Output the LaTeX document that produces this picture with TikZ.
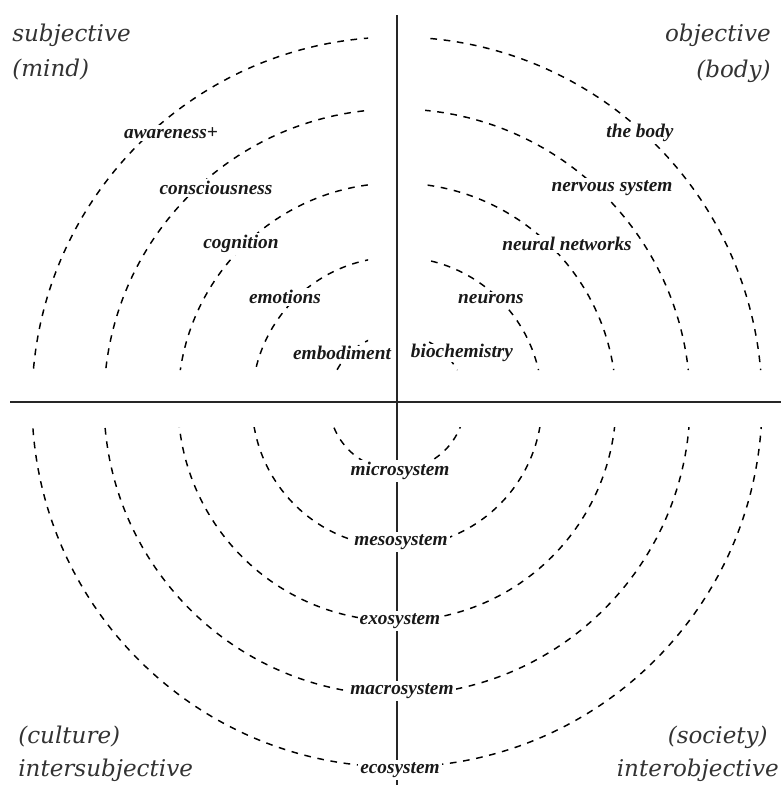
\documentclass[tikz,border=0pt]{standalone}
\usepackage{fontspec}
\setmainfont{Liberation Serif}
\newfontfamily\corfont{DejaVu Serif}
\begin{document}
\begin{tikzpicture}[x=0.75pt,y=-0.75pt,
  ring/.style={line width=1.1pt,dash pattern=on 5pt off 5pt,black},
  axis/.style={line width=1.3pt,black!85},
  lbl/.style={font=\fontsize{14.5}{17}\selectfont\bfseries\itshape,fill=white,inner sep=1.5pt,text=black!90},
  corner/.style={font=\corfont\fontsize{17.3}{20}\selectfont\itshape,text=black!80,inner sep=0pt,align=left}]
\useasboundingbox (0,0) rectangle (781,785);
\coordinate (O) at (397,402);
\begin{scope}
  \clip (0,0) rectangle (368,370) (425,0) rectangle (781,370) (0,427) rectangle (781,785);
  \foreach \r in {68,145,219,293,365}
    \draw[ring] (O) circle[radius={\r*0.75pt}];
\end{scope}
\coordinate (vt) at (397,15);
\coordinate (vb) at (397,785);
\coordinate (hl) at (10,402);
\coordinate (hr) at (781,402);
\draw[axis] (vt) -- (vb);
\draw[axis] (hl) -- (hr);
% top-left
\node[lbl] (aw) at (171,133) {awareness+};
\node[lbl] (co) at (216,188) {consciousness};
\node[lbl] (cg) at (241,244) {cognition};
\node[lbl] (em) at (285,297) {emotions};
\node[lbl,inner sep=0.5pt] (eb) at (342,353) {embodiment};
% top-right
\node[lbl] (tb) at (640,133) {the body};
\node[lbl] (ns) at (612,188) {nervous system};
\node[lbl] (nn) at (567,244) {neural networks};
\node[lbl] (ne) at (491,299) {neurons};
\node[lbl,inner sep=0.5pt] (bc) at (462,353) {biochemistry};
% bottom
\node[lbl] (mi) at (400,471) {microsystem};
\node[lbl] (me) at (401,542) {mesosystem};
\node[lbl] (ex) at (400,621) {exosystem};
\node[lbl] (ma) at (402,691) {macrosystem};
\node[lbl] (ec) at (400,770) {ecosystem};
% corners
\node[corner,anchor=west] (s1) at (12,35) {subjective};
\node[corner,anchor=west] (s2) at (12,70) {(mind)};
\node[corner,anchor=east] (o1) at (771,35) {objective};
\node[corner,anchor=east] (o2) at (771,71) {(body)};
\node[corner,anchor=west] (c1) at (18,737) {(culture)};
\node[corner,anchor=west] (c2) at (18,770) {intersubjective};
\node[corner,anchor=east] (y1) at (768,737) {(society)};
\node[corner,anchor=east] (y2) at (779,770) {interobjective};
\end{tikzpicture}
\end{document}
